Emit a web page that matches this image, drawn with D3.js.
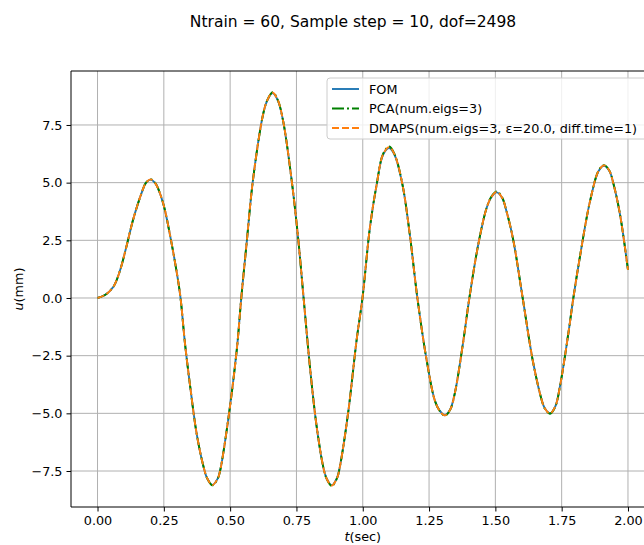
<!DOCTYPE html>
<html>
<head>
<meta charset="utf-8">
<script src="https://cdn.jsdelivr.net/npm/d3@7"></script>
<style>
  body { margin: 0; background: #fff; }
  svg { display: block; font-family: "DejaVu Sans", sans-serif; }
</style>
</head>
<body>
<svg id="chart" width="644" height="545"></svg>
<script>
"use strict";

// time samples (sec)
const times = [0.000, 0.028, 0.060, 0.085, 0.110, 0.135, 0.167, 0.182, 0.200, 0.218,
  0.229, 0.250, 0.273, 0.301, 0.313, 0.330, 0.349, 0.374, 0.399, 0.413,
  0.433, 0.453, 0.462, 0.493, 0.525, 0.542, 0.562, 0.587, 0.625, 0.640,
  0.660, 0.680, 0.700, 0.732, 0.757, 0.777, 0.801, 0.826, 0.851, 0.863,
  0.883, 0.903, 0.914, 0.945, 0.977, 0.999, 1.027, 1.053, 1.077, 1.100,
  1.120, 1.150, 1.178, 1.206, 1.241, 1.272, 1.290, 1.310, 1.330, 1.348,
  1.379, 1.402, 1.436, 1.467, 1.485, 1.505, 1.525, 1.543, 1.568, 1.603,
  1.643, 1.675, 1.686, 1.706, 1.726, 1.744, 1.775, 1.794, 1.819, 1.857,
  1.890, 1.910, 1.930, 1.945, 1.970, 2.000];

const fom = [0.00, 0.13, 0.49, 1.20, 2.28, 3.43, 4.58, 4.98, 5.13, 4.97,
  4.73, 4.00, 2.75, 0.95, 0.00, -2.00, -3.80, -5.90, -7.28, -7.80,
  -8.10, -7.83, -7.50, -5.25, -2.25, 0.00, 2.36, 5.20, 8.00, 8.56,
  8.88, 8.56, 7.66, 5.10, 2.52, 0.00, -3.00, -5.55, -7.32, -7.80,
  -8.12, -7.80, -7.30, -4.97, -1.81, 0.00, 3.05, 4.95, 6.22, 6.50,
  6.20, 4.90, 2.70, 0.00, -2.70, -4.45, -4.88, -5.08, -4.82, -4.08,
  -1.88, 0.00, 2.35, 3.90, 4.37, 4.58, 4.35, 3.72, 2.48, 0.00,
  -2.83, -4.43, -4.77, -5.00, -4.70, -3.80, -1.55, 0.00, 1.80, 4.20,
  5.52, 5.73, 5.50, 4.96, 3.62, 1.22];

const pca = [0.00, 0.13, 0.49, 1.20, 2.28, 3.43, 4.58, 4.99, 5.15, 4.98,
  4.73, 4.00, 2.75, 0.95, 0.00, -2.00, -3.80, -5.90, -7.28, -7.81,
  -8.12, -7.84, -7.50, -5.25, -2.25, 0.00, 2.36, 5.20, 8.00, 8.58,
  8.92, 8.58, 7.66, 5.10, 2.52, 0.00, -3.00, -5.55, -7.32, -7.82,
  -8.15, -7.82, -7.30, -4.97, -1.81, 0.00, 3.05, 4.96, 6.26, 6.57,
  6.24, 4.90, 2.70, 0.00, -2.70, -4.46, -4.90, -5.10, -4.84, -4.08,
  -1.88, 0.00, 2.35, 3.91, 4.40, 4.62, 4.38, 3.72, 2.48, 0.00,
  -2.83, -4.44, -4.79, -5.02, -4.71, -3.80, -1.55, 0.00, 1.80, 4.20,
  5.54, 5.76, 5.52, 4.96, 3.62, 1.22];

const dmaps = [0.00, 0.13, 0.49, 1.20, 2.28, 3.43, 4.58, 4.98, 5.14, 4.97,
  4.73, 4.00, 2.75, 0.95, 0.00, -2.00, -3.80, -5.90, -7.28, -7.80,
  -8.11, -7.83, -7.50, -5.25, -2.25, 0.00, 2.36, 5.20, 8.00, 8.57,
  8.90, 8.57, 7.66, 5.10, 2.52, 0.00, -3.00, -5.55, -7.32, -7.81,
  -8.13, -7.81, -7.30, -4.97, -1.81, 0.00, 3.05, 4.95, 6.24, 6.54,
  6.22, 4.90, 2.70, 0.00, -2.70, -4.45, -4.89, -5.09, -4.83, -4.08,
  -1.88, 0.00, 2.35, 3.90, 4.38, 4.60, 4.36, 3.72, 2.48, 0.00,
  -2.83, -4.43, -4.78, -5.01, -4.70, -3.80, -1.55, 0.00, 1.80, 4.20,
  5.53, 5.75, 5.51, 4.96, 3.62, 1.22];

const xTicks = [0, 0.25, 0.5, 0.75, 1.0, 1.25, 1.5, 1.75, 2.0];
const yTicks = [-7.5, -5.0, -2.5, 0.0, 2.5, 5.0, 7.5];
const seriesNames = ["FOM", "PCA(num.eigs=3)", "DMAPS(num.eigs=3, \u03b5=20.0, diff.time=1)"];
const seriesColors = ["#1f77b4", "#008000", "#ff7f0e"];
const seriesDash = [null, "12,3,2,3", "7,3"];

const plotLeft = 71, plotRight = 654.5, plotTop = 71, plotBottom = 507;

const svg = d3.select("#chart");
const x = d3.scaleLinear().domain([-0.1, 2.1]).range([plotLeft, plotRight]);
const y = d3.scaleLinear().domain([-9.06, 9.84]).range([plotBottom, plotTop]);

svg.append("defs").append("clipPath").attr("id", "plotClip")
  .append("rect")
  .attr("x", plotLeft).attr("y", plotTop)
  .attr("width", plotRight - plotLeft).attr("height", plotBottom - plotTop);

// grid
const grid = svg.append("g");
grid.selectAll("line.gx").data(xTicks).enter().append("line")
  .attr("x1", d => x(d)).attr("x2", d => x(d))
  .attr("y1", plotTop).attr("y2", plotBottom)
  .attr("stroke", "#b0b0b0").attr("stroke-width", 1);
grid.selectAll("line.gy").data(yTicks).enter().append("line")
  .attr("x1", plotLeft).attr("x2", plotRight)
  .attr("y1", d => y(d)).attr("y2", d => y(d))
  .attr("stroke", "#b0b0b0").attr("stroke-width", 1);

// axes
const xAxis = d3.axisBottom(x).tickValues(xTicks).tickFormat(d3.format(".2f"))
  .tickSizeInner(4.5).tickSizeOuter(0).tickPadding(4);
const yAxis = d3.axisLeft(y).tickValues(yTicks).tickFormat(d => d3.format(".1f")(d).replace("-", "\u2212"))
  .tickSizeInner(4.5).tickSizeOuter(0).tickPadding(4);

const gx = svg.append("g").attr("transform", `translate(0,${plotBottom})`).call(xAxis);
const gy = svg.append("g").attr("transform", `translate(${plotLeft},0)`).call(yAxis);
[gx, gy].forEach(g => {
  g.select(".domain").remove();
  g.selectAll("text").attr("font-size", 12.8).attr("fill", "#000")
    .attr("font-family", "DejaVu Sans, sans-serif");
  g.selectAll(".tick line").attr("stroke", "#000").attr("stroke-width", 1);
});

// spines
svg.append("line").attr("x1", plotLeft).attr("x2", plotLeft)
  .attr("y1", plotTop).attr("y2", plotBottom).attr("stroke", "#000").attr("stroke-width", 1);
svg.append("line").attr("x1", plotLeft).attr("x2", plotRight)
  .attr("y1", plotBottom).attr("y2", plotBottom).attr("stroke", "#000").attr("stroke-width", 1);
svg.append("line").attr("x1", plotLeft).attr("x2", plotRight)
  .attr("y1", plotTop).attr("y2", plotTop).attr("stroke", "#000").attr("stroke-width", 1);

// lines
const line = d3.line()
  .x((d, i) => x(times[i]))
  .y(d => y(d))
  .curve(d3.curveCatmullRom.alpha(0.5));

const lines = svg.append("g").attr("clip-path", "url(#plotClip)");
[fom, pca, dmaps].forEach((vals, i) => {
  lines.append("path")
    .attr("d", line(vals))
    .attr("fill", "none")
    .attr("stroke", seriesColors[i])
    .attr("stroke-width", 1.9)
    .attr("stroke-dasharray", seriesDash[i]);
});

// legend
const legend = svg.append("g");
legend.append("rect")
  .attr("x", 327).attr("y", 78).attr("width", 330).attr("height", 61)
  .attr("rx", 3)
  .attr("fill", "#fff").attr("fill-opacity", 0.8)
  .attr("stroke", "#cccccc").attr("stroke-width", 1);
seriesNames.forEach((name, i) => {
  const cy = 89 + i * 19.5;
  legend.append("line")
    .attr("x1", 332).attr("x2", 359).attr("y1", cy).attr("y2", cy)
    .attr("stroke", seriesColors[i]).attr("stroke-width", 1.9)
    .attr("stroke-dasharray", seriesDash[i]);
  legend.append("text")
    .attr("x", 369).attr("y", cy).attr("dy", "0.36em")
    .attr("font-size", 12.8).text(name);
});

// title and labels
svg.append("text").attr("x", 353).attr("y", 27)
  .attr("text-anchor", "middle").attr("font-size", 15.5)
  .text("Ntrain = 60, Sample step = 10, dof=2498");

const xl = svg.append("text").attr("x", (plotLeft + plotRight) / 2).attr("y", 541)
  .attr("text-anchor", "middle").attr("font-size", 12.8);
xl.append("tspan").attr("font-style", "italic").text("t");
xl.append("tspan").text("(sec)");

const yl = svg.append("text")
  .attr("transform", `translate(23,${(plotTop + plotBottom) / 2}) rotate(-90)`)
  .attr("text-anchor", "middle").attr("font-size", 12.8);
yl.append("tspan").attr("font-style", "italic").text("u");
yl.append("tspan").text("(mm)");
</script>
</body>
</html>
